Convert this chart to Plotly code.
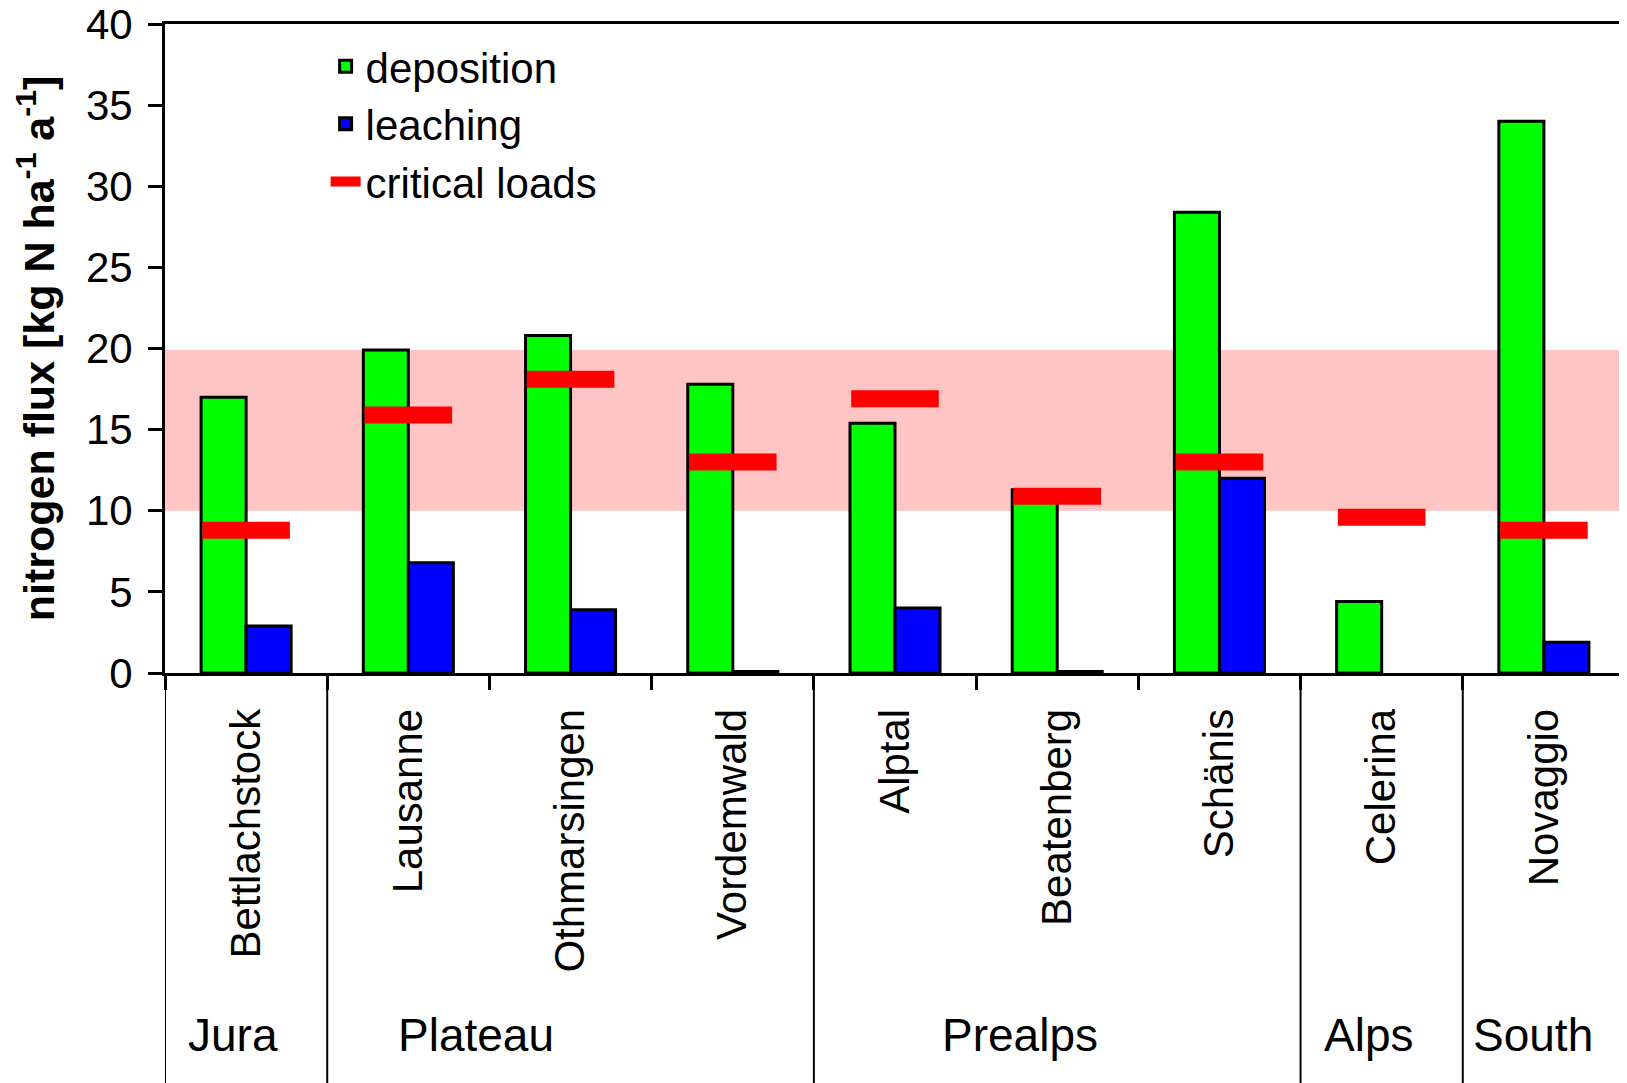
import plotly.graph_objects as go

# ---- data ----
sites = ["Bettlachstock", "Lausanne", "Othmarsingen", "Vordemwald", "Alptal",
         "Beatenberg", "Schänis", "Celerina", "Novaggio"]
deposition = [17.0, 19.9, 20.8, 17.8, 15.4, 11.3, 28.4, 4.4, 34.0]
leaching = [2.9, 6.8, 3.9, 0.1, 4.0, 0.1, 12.0, None, 1.9]
critical_loads = [8.8, 15.9, 18.1, 13.0, 16.9, 10.9, 13.0, 9.6, 8.8]
regions = ["Jura", "Plateau", "Prealps", "Alps", "South"]
region_sizes = [1, 3, 3, 1, 1]
critical_range = [10, 19.9]
y_ticks = [0, 5, 10, 15, 20, 25, 30, 35, 40]

# ---- styling constants ----
FONT = "Liberation Sans, Arial, sans-serif"
GREEN = "#00FF00"
BLUE = "#0000FF"
RED = "#FF0000"
PINK = "rgb(255,196,196)"
CL_HALF = 0.27          # half width of critical-load marks (category units)
REGION_LABEL_SHIFT = [-0.08, -0.58, -0.23, -0.08, -0.07]  # label offset from region centre

fig = go.Figure()

fig.add_trace(go.Bar(
    name="deposition", x=sites, y=deposition,
    marker=dict(color=GREEN, line=dict(color="black", width=3)),
))
fig.add_trace(go.Bar(
    name="leaching", x=sites, y=leaching,
    marker=dict(color=BLUE, line=dict(color="black", width=3)),
))

# critical loads: short thick horizontal segments centred on each site
cl_x, cl_y = [], []
for i, v in enumerate(critical_loads):
    cl_x += [i - CL_HALF, i + CL_HALF, None]
    cl_y += [v, v, None]
fig.add_trace(go.Scatter(
    name="critical loads", x=cl_x, y=cl_y, xaxis="x2", mode="lines",
    line=dict(color=RED, width=17),
))

# pink band for critical load range
fig.add_shape(type="rect", xref="paper", yref="y", x0=0, x1=1,
              y0=critical_range[0], y1=critical_range[1],
              fillcolor=PINK, line=dict(width=0), layer="below")

# region separators and labels
bounds = [-0.5]
for s in region_sizes:
    bounds.append(bounds[-1] + s)
for b in bounds:
    fig.add_shape(type="line", xref="x", yref="paper", x0=b, x1=b, y0=0, y1=-0.7,
                  line=dict(color="black", width=2), layer="above")
for k, name in enumerate(regions):
    centre = (bounds[k] + bounds[k + 1]) / 2
    fig.add_annotation(text=name, xref="x", yref="paper",
                       x=centre + REGION_LABEL_SHIFT[k],
                       y=-0.558, showarrow=False, xanchor="center", yanchor="middle",
                       font=dict(family=FONT, size=46, color="black"))

# page body has an 8px margin, so the figure is made 8px smaller
fig.update_layout(
    width=1619, height=1075,
    margin=dict(l=157, r=2, t=16, b=410, autoexpand=False),
    plot_bgcolor="white", paper_bgcolor="white",
    barmode="group", bargap=0.445, bargroupgap=0,
    font=dict(family=FONT, size=42, color="black"),
    showlegend=True,
    legend=dict(x=0.11, y=0.987, xanchor="left", yanchor="top",
                bgcolor="rgba(0,0,0,0)", font=dict(family=FONT, size=42),
                traceorder="normal"),
    xaxis=dict(type="category", range=[-0.5, 8.5], tickson="boundaries",
               ticks="outside", ticklen=14, tickwidth=3, tickcolor="black",
               tickangle=-90, showline=True, linewidth=3, linecolor="black",
               mirror=True, showgrid=False, tickfont=dict(family=FONT, size=42),
               ticklabelstandoff=16, automargin=False),
    xaxis2=dict(overlaying="x", range=[-0.5, 8.5], visible=False, anchor="y"),
    yaxis=dict(range=[0, 40], tickmode="array", tickvals=y_ticks,
               ticks="outside", ticklen=14, tickwidth=3, tickcolor="black",
               showline=True, linewidth=3, linecolor="black", mirror=True,
               showgrid=False, zeroline=False, ticklabeloverflow="allow",
               automargin=False,
               tickfont=dict(family=FONT, size=42), ticklabelstandoff=7,
               title=dict(text="nitrogen flux [kg N ha<sup>-1</sup> a<sup>-1</sup>]",
                          font=dict(family=FONT, size=43, weight="bold"),
                          standoff=18)),
)

fig.write_html("out.html")
